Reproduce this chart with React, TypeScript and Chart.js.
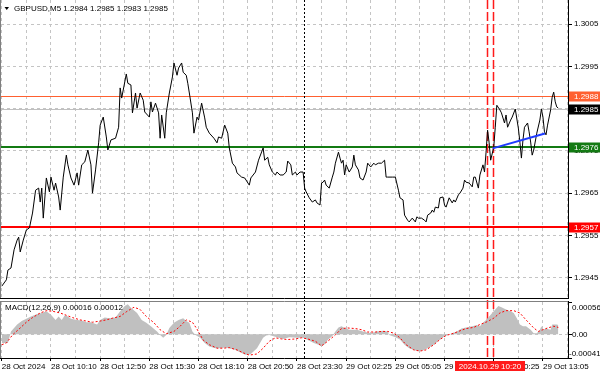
import React, { useEffect, useRef } from "react";
import { Chart, registerables } from "chart.js";

Chart.register(...registerables);

// ---------- data ----------
const titleText = "GBPUSD,M5 1.2984 1.2985 1.2983 1.2985";
const macdTitle = "MACD(12,26,9) 0.00016 0.00012";

// bar index (5-minute bars from the left edge) and close price
const priceBars = [0,3,4,6,8,10,11,12,14,16,
18,20,22,24,25,26,27,29,31,32,
34,35,37,38,40,42,43,45,47,49,
50,52,54,56,58,59,61,63,64,66,
68,69,71,74,76,77,78,80,81,82,
84,85,87,88,90,92,93,96,97,98,
100,102,103,104,106,107,109,111,112,114,
115,117,118,120,121,122,124,125,127,128,
130,132,133,135,138,140,141,143,145,147,
148,150,152,153,156,158,161,162,165,167,
170,171,173,174,176,178,179,181,183,185,
186,188,189,191,192,194,196,197,198,200,
202,204,205,207,208,209,210,211,213,215,
216,217,219,220,221,222,223,224,226,228,
229,230,232,233,235,237,238,240,242,243,
245,247,249,250,251,254,256,258,259,261,
262,264,265,267,269,270,271,273,275,276,
277,279,280,281,282,284,285,287,288,289,
291,293,294,295,297,298,300,301,302,304,
306,307,308,310,311,313,314,315,316,317,
318,320,321,322,324,325,327,328,329,331,
332,334,336,337,338,339,340,342,343,344,
345,346,348,350,351,352,353,354,355,357,
358,359,360,361,362];

const prices = [1.2943,1.29445,1.29468,1.29473,1.29516,1.29539,1.29546,1.29511,1.29539,1.29563,
1.29568,1.29603,1.29657,1.29662,1.29629,1.29662,1.29591,1.29686,1.29653,1.29688,
1.29657,1.29674,1.29641,1.2961,1.29688,1.2974,1.29717,1.29686,1.29669,1.29698,
1.29669,1.29717,1.29724,1.29752,1.29717,1.2965,1.29705,1.29769,1.29811,1.2983,
1.29783,1.29752,1.29776,1.2978,1.29806,1.29899,1.29875,1.29913,1.29932,1.2991,
1.29906,1.2984,1.29887,1.29851,1.29887,1.2987,1.29842,1.2983,1.29866,1.29842,
1.29863,1.2984,1.2978,1.29835,1.2978,1.2984,1.29887,1.29925,1.29958,1.29929,
1.29946,1.29958,1.29936,1.29929,1.2991,1.29887,1.2984,1.29792,1.2983,1.29823,
1.29863,1.29828,1.29806,1.29792,1.2978,1.29769,1.29783,1.2978,1.29811,1.29792,
1.29757,1.29721,1.29712,1.29698,1.29688,1.29686,1.29669,1.29686,1.297,1.29728,
1.29757,1.29728,1.29735,1.29717,1.297,1.29693,1.297,1.29693,1.29693,1.297,
1.29726,1.29717,1.29693,1.297,1.29693,1.297,1.297,1.29662,1.29653,1.29639,
1.29629,1.29634,1.29627,1.29622,1.29674,1.29676,1.29681,1.29669,1.29662,1.29688,
1.297,1.29721,1.29747,1.29733,1.29721,1.29728,1.29693,1.29717,1.297,1.29712,
1.2974,1.29717,1.29705,1.29686,1.29681,1.297,1.29721,1.29712,1.29721,1.29717,
1.29721,1.29721,1.29728,1.29688,1.29688,1.29688,1.29688,1.29657,1.29639,1.29634,
1.29598,1.29586,1.29582,1.29591,1.29582,1.29594,1.29591,1.29591,1.29586,1.29582,
1.29598,1.29603,1.2961,1.29605,1.29617,1.29615,1.29639,1.29641,1.29622,1.29617,
1.29639,1.29627,1.29634,1.29629,1.29646,1.2965,1.29662,1.29681,1.29676,1.29674,
1.29665,1.29688,1.29688,1.29662,1.29693,1.29717,1.297,1.29747,1.29799,1.29769,
1.29728,1.29759,1.29806,1.29858,1.29847,1.2984,1.29816,1.29835,1.29806,1.29823,
1.2983,1.29849,1.29804,1.29771,1.29733,1.29776,1.29806,1.29816,1.29795,1.29771,
1.2974,1.29752,1.29792,1.29823,1.29849,1.2983,1.29795,1.29788,1.29811,1.29847,
1.29877,1.29889,1.29866,1.29854,1.29851];

// MACD main (histogram) and signal
const histBars = [0,4,6,10,13,16,19,23,26,29,
32,35,37,39,41,43,45,49,52,55,
58,62,64,67,70,74,77,80,82,84,
88,91,94,97,101,103,105,107,109,112,
115,118,120,122,124,126,129,132,135,139,
142,145,148,152,155,158,160,162,166,168,
170,172,174,179,183,187,192,196,199,203,
206,208,210,212,215,217,219,221,223,226,
231,235,240,244,248,251,252,256,259,262,
265,269,271,274,277,281,284,287,290,293,
296,299,302,306,309,311,313,315,317,319,
321,323,325,328,331,333,335,337,339,341,
344,346,348,350,351,352,354,357,358,361,
362];
const histValues = [-0.00015,-0.00015,0.00005,0.00017,0.00023,0.00027,0.00031,0.00035,0.00037,0.0004,
0.00034,0.00025,0.00031,0.00025,0.00033,0.00031,0.00027,0.00025,0.00024,0.00021,
0.00021,0.00017,0.00025,0.00029,0.00028,0.00029,0.0004,0.00049,0.00052,0.00046,
0.00037,0.00025,0.0002,0.00014,0.00005,-0.00001,-0.00006,-0.00001,0.00011,0.0002,
0.00025,0.00028,0.00023,0.0002,0.00005,-0.00001,-0.00006,-0.00015,-0.00021,-0.00024,
-0.00024,-0.00023,-0.00024,-0.00027,-0.00031,-0.00035,-0.00036,-0.00034,-0.00024,-0.00015,
-0.00006,-0.00002,-0.00001,-0.00005,-0.00008,-0.00005,-0.00006,-0.00006,-0.0001,-0.00015,
-0.00018,-0.00021,-0.00017,-0.0001,-0.00003,0.00005,0.00012,0.00014,0.00011,0.00008,
0.00008,0.00005,0.00002,0.00005,0.00006,0.00005,-0.00001,-0.00005,-0.00009,-0.00018,
-0.00024,-0.00028,-0.00029,-0.00028,-0.00024,-0.00018,-0.00011,-0.00005,-0.00001,0.00002,
0.00005,0.0001,0.00012,0.00014,0.00016,0.00014,0.0002,0.00025,0.00031,0.00037,
0.00043,0.00049,0.00047,0.00043,0.0004,0.00037,0.00028,0.00017,0.00014,0.00014,
0.00008,0.00002,0.00002,0.00008,0.00014,0.00008,0.0001,0.00008,0.00017,0.00017,
0.00016];

const signalBars = [0,3,7,12,16,20,25,29,33,38,
42,46,51,55,59,64,68,72,77,81,
86,90,94,99,103,107,112,116,120,124,
127,131,135,140,144,148,153,157,161,166,
170,174,178,182,186,191,195,199,204,208,
212,217,221,225,230,234,238,243,247,251,
255,259,263,268,272,276,281,285,289,294,
298,302,307,311,315,320,324,328,333,337,
341,346,349,352,355,359,362];
const signalValues = [-0.00018,-0.00015,-0.00001,0.00011,0.00021,0.00029,0.00037,0.00041,0.0004,0.00037,
0.00033,0.00029,0.00025,0.00023,0.00021,0.00023,0.00025,0.00028,0.00031,0.00039,
0.00047,0.00043,0.00031,0.0002,0.00008,0.00001,0.00005,0.00014,0.00025,0.00021,
0.00009,-0.0001,-0.00018,-0.00024,-0.00024,-0.00023,-0.00027,-0.00032,-0.00036,-0.00034,
-0.00024,-0.00012,-0.00006,-0.00008,-0.00009,-0.00008,-0.00006,-0.00008,-0.00012,-0.0002,
-0.00012,-0.00001,0.0001,0.00011,0.0001,0.00008,0.00004,0.00004,0.00005,0.00005,
0.00002,-0.00006,-0.00018,-0.00027,-0.00029,-0.00027,-0.00018,-0.00009,-0.00002,0.00002,
0.00006,0.0001,0.00012,0.00017,0.00021,0.00028,0.00037,0.00041,0.00041,0.00037,
0.00025,0.00011,0.00005,0.00008,0.00011,0.00014,0.00012];

// blue trend line
const trendBars = [319.3, 353.3];
const trendPrices = [1.29756, 1.29791];

// horizontal levels: resistance, current bid, support, lower level
const levelPrices = [1.2988, 1.2985, 1.2976, 1.2957];

const priceTicks = [1.2945, 1.2955, 1.2965, 1.2975, 1.2985, 1.2995, 1.3005];
const macdTicks = [-0.00041, 0, 0.00056];
const macdTickLabels = ["-0.00041", "0.00", "0.00056"];
const timeLabels = ["28 Oct 2024", "28 Oct 10:10", "28 Oct 12:50", "28 Oct 15:30", "28 Oct 18:10", "28 Oct 20:50",
  "28 Oct 23:30", "29 Oct 02:25", "29 Oct 05:05", "29 Oct 07:45", "29 Oct 10:25", "29 Oct 13:05"];

const separatorBar = 196.5;          // day separator
const markerBars = [315.6, 319.5];   // red dashed verticals
const crosshairBar = 317.55;
const crosshairLabel = "2024.10.29 10:20";

// ---------- styles / layout ----------
const FONT = "'Liberation Sans', Arial, sans-serif";
const FONT_SIZE = 8;
const GRID = "#c4c4c4";
const X_MIN = -0.5;
const X_MAX = 368.3;
const PRICE_MIN = 1.29402;
const PRICE_MAX = 1.30107;
const MACD_MIN = -0.00041;
const MACD_MAX = 0.00056;
const GRID_STEP = 16;
const LABEL_STEP = 32;
const LEVEL_COLORS = ["#ff6030", "#c0c0c0", "#137a13", "#ff0000"];
const LEVEL_BOX = ["#ff6030", "#000000", "#137a13", "#ff0000"];
const LEVEL_WIDTHS = [1, 1, 2, 2];

const gridBars: number[] = [];
for (let b = 0; b <= X_MAX; b += GRID_STEP) gridBars.push(b);

function xScale(withLabels: boolean): any {
  return {
    type: "linear",
    min: X_MIN,
    max: X_MAX,
    afterBuildTicks: (s: any) => { s.ticks = gridBars.map((v) => ({ value: v })); },
    afterFit: (s: any) => { s.height = withLabels ? 17 : 0; s.paddingLeft = 0; s.paddingRight = 0; },
    grid: {
      color: GRID,
      lineWidth: 1,
      drawTicks: withLabels,
      tickLength: 3,
      tickColor: (c: any) => (c.tick && c.tick.value % LABEL_STEP === 0 ? "#000" : "rgba(0,0,0,0)"),
    },
    border: { display: false, dash: [3, 3] },
    ticks: {
      display: withLabels,
      autoSkip: false,
      maxRotation: 0,
      minRotation: 0,
      align: "start",
      padding: 1,
      color: "#000",
      font: { family: FONT, size: FONT_SIZE },
      callback: (v: any) => {
        const n = Number(v);
        return n % LABEL_STEP === 0 && timeLabels[n / LABEL_STEP] ? timeLabels[n / LABEL_STEP] : "";
      },
    },
  };
}

function drawVerticals(ctx: CanvasRenderingContext2D, xs: any, top: number, bottom: number) {
  ctx.save();
  const sx = Math.round(xs.getPixelForValue(separatorBar)) + 0.5;
  ctx.strokeStyle = "#000";
  ctx.lineWidth = 1;
  ctx.setLineDash([2, 2]);
  ctx.beginPath(); ctx.moveTo(sx, top); ctx.lineTo(sx, bottom); ctx.stroke();
  ctx.strokeStyle = "#ff1a1a";
  ctx.lineWidth = 1.5;
  ctx.setLineDash([9, 3]);
  markerBars.forEach((b) => {
    const mx = Math.round(xs.getPixelForValue(b)) + 0.5;
    ctx.beginPath(); ctx.moveTo(mx, top); ctx.lineTo(mx, bottom); ctx.stroke();
  });
  ctx.restore();
}

const mainOverlay = {
  id: "mainOverlay",
  beforeDatasetsDraw(chart: any) {
    const { ctx, chartArea: a, scales } = chart;
    ctx.save();
    levelPrices.forEach((p, i) => {
      const w = LEVEL_WIDTHS[i];
      const py = Math.round(scales.y.getPixelForValue(p)) + (w % 2 ? 0.5 : 0);
      ctx.strokeStyle = LEVEL_COLORS[i];
      ctx.lineWidth = w;
      ctx.beginPath(); ctx.moveTo(a.left, py); ctx.lineTo(a.right, py); ctx.stroke();
    });
    ctx.restore();
    drawVerticals(ctx, scales.x, a.top, a.bottom);
  },
  afterDraw(chart: any) {
    const { ctx, chartArea: a, scales, width } = chart;
    ctx.save();
    // frame
    ctx.strokeStyle = "#000";
    ctx.lineWidth = 1;
    ctx.beginPath();
    ctx.moveTo(a.right + 0.5, 0); ctx.lineTo(a.right + 0.5, a.bottom + 1);
    ctx.moveTo(0, a.bottom + 0.5); ctx.lineTo(a.right + 1, a.bottom + 0.5);
    ctx.stroke();
    ctx.strokeStyle = "#808080";
    ctx.beginPath(); ctx.moveTo(0.5, 0); ctx.lineTo(0.5, a.bottom); ctx.stroke();
    // price boxes
    ctx.font = `${FONT_SIZE}px ${FONT}`;
    ctx.textBaseline = "middle";
    ctx.textAlign = "left";
    levelPrices.forEach((p, i) => {
      const py = Math.round(scales.y.getPixelForValue(p));
      ctx.fillStyle = LEVEL_BOX[i];
      ctx.fillRect(a.right + 1, py - 4.5, width - a.right - 1, 10);
      ctx.fillStyle = "#fff";
      ctx.fillText(p.toFixed(4), a.right + 6, py + 0.5);
    });
    // title
    ctx.fillStyle = "#000";
    ctx.beginPath(); ctx.moveTo(4.5, 7); ctx.lineTo(9, 7); ctx.lineTo(6.75, 10); ctx.closePath(); ctx.fill();
    ctx.fillText(titleText, 14, 8.5);
    ctx.restore();
  },
};

const macdOverlay = {
  id: "macdOverlay",
  beforeDatasetsDraw(chart: any) {
    const { ctx, chartArea: a, scales } = chart;
    drawVerticals(ctx, scales.x, 0, a.bottom);
  },
  afterDraw(chart: any) {
    const { ctx, chartArea: a, scales } = chart;
    ctx.save();
    ctx.lineWidth = 1;
    ctx.strokeStyle = "#808080";
    ctx.beginPath();
    ctx.moveTo(0, 1.5); ctx.lineTo(a.right + 1, 1.5);
    ctx.moveTo(0.5, 1); ctx.lineTo(0.5, a.bottom);
    ctx.stroke();
    ctx.strokeStyle = "#000";
    ctx.beginPath();
    ctx.moveTo(a.right + 0.5, 1); ctx.lineTo(a.right + 0.5, a.bottom + 1);
    ctx.moveTo(0, a.bottom + 0.5); ctx.lineTo(a.right + 1, a.bottom + 0.5);
    ctx.stroke();
    ctx.font = `${FONT_SIZE}px ${FONT}`;
    ctx.textBaseline = "middle";
    ctx.fillStyle = "#000";
    ctx.textAlign = "left";
    macdTicks.forEach((v, i) => {
      const py = scales.y.getPixelForValue(v);
      const ly = Math.min(Math.max(py, a.top + 6), a.bottom - 4);
      const lbl = macdTickLabels[i];
      ctx.fillText(lbl, a.right + (lbl.startsWith("-") ? 1 : 4), ly);
    });
    ctx.fillText(macdTitle, 5, a.top + 5.5);
    // crosshair time label
    const cx = scales.x.getPixelForValue(crosshairBar);
    const tw = ctx.measureText(crosshairLabel).width;
    ctx.fillStyle = "#ff1a1a";
    ctx.fillRect(Math.round(cx - tw / 2 - 4), a.bottom + 3, Math.round(tw + 8), 10);
    ctx.fillStyle = "#fff";
    ctx.textAlign = "center";
    ctx.fillText(crosshairLabel, cx, a.bottom + 8.5);
    ctx.restore();
  },
};

export default function App() {
  const topRef = useRef<HTMLCanvasElement>(null);
  const botRef = useRef<HTMLCanvasElement>(null);

  useEffect(() => {
    const pricePts = priceBars.map((b, i) => ({ x: b, y: prices[i] }));
    const trendPts = trendBars.map((b, i) => ({ x: b, y: trendPrices[i] }));
    const histPts = histBars.map((b, i) => ({ x: b, y: histValues[i] }));
    const sigPts = signalBars.map((b, i) => ({ x: b, y: signalValues[i] }));

    const top = new Chart(topRef.current as HTMLCanvasElement, {
      type: "line",
      data: {
        datasets: [
          { data: trendPts, borderColor: "#1f3cff", borderWidth: 2, pointRadius: 0, tension: 0 },
          { data: pricePts, borderColor: "#000", borderWidth: 1, pointRadius: 0, tension: 0 },
        ],
      },
      options: {
        animation: false,
        responsive: false,
        events: [],
        layout: { padding: { left: 1, top: 0, right: 0, bottom: 2 } },
        plugins: { legend: { display: false }, tooltip: { enabled: false } },
        scales: {
          x: xScale(false),
          y: {
            type: "linear",
            position: "right",
            min: PRICE_MIN,
            max: PRICE_MAX,
            afterBuildTicks: (s: any) => { s.ticks = priceTicks.map((v) => ({ value: v })); },
            afterFit: (s: any) => { s.width = 32; s.paddingTop = 0; s.paddingBottom = 0; },
            grid: { color: GRID, tickLength: 4, tickColor: "#000" },
            border: { display: false, dash: [3, 3] },
            ticks: {
              padding: 2,
              color: "#000",
              font: { family: FONT, size: FONT_SIZE },
              callback: (v: any) => Number(v).toFixed(4),
            },
          },
        },
      } as any,
      plugins: [mainOverlay],
    });

    const bot = new Chart(botRef.current as HTMLCanvasElement, {
      type: "line",
      data: {
        datasets: [
          { data: sigPts, borderColor: "#ff0000", borderWidth: 1, borderDash: [2, 2], pointRadius: 0, tension: 0 },
          { data: histPts, borderColor: "rgba(0,0,0,0)", borderWidth: 0, backgroundColor: "#c0c0c0", fill: "origin", pointRadius: 0, tension: 0 },
        ],
      },
      options: {
        animation: false,
        responsive: false,
        events: [],
        layout: { padding: { left: 1, top: 2, right: 0, bottom: 0 } },
        plugins: { legend: { display: false }, tooltip: { enabled: false } },
        scales: {
          x: xScale(true),
          y: {
            type: "linear",
            position: "right",
            min: MACD_MIN,
            max: MACD_MAX,
            afterBuildTicks: (s: any) => { s.ticks = macdTicks.map((v) => ({ value: v })); },
            afterFit: (s: any) => { s.width = 32; s.paddingTop = 0; s.paddingBottom = 0; },
            grid: {
              color: (c: any) => (c.tick && c.tick.value === 0 ? GRID : "rgba(0,0,0,0)"),
              tickLength: 4,
              tickColor: "#000",
            },
            border: { display: false, dash: [3, 3] },
            ticks: { display: false },
          },
        },
      } as any,
      plugins: [macdOverlay],
    });

    return () => { top.destroy(); bot.destroy(); };
  }, []);

  return (
    <div style={{ position: "fixed", left: 0, top: 0, width: 600, height: 375, background: "#fff" }}>
      <canvas ref={topRef} width={600} height={300} style={{ position: "absolute", left: 0, top: 0 }} />
      <canvas ref={botRef} width={600} height={75} style={{ position: "absolute", left: 0, top: 300 }} />
    </div>
  );
}
